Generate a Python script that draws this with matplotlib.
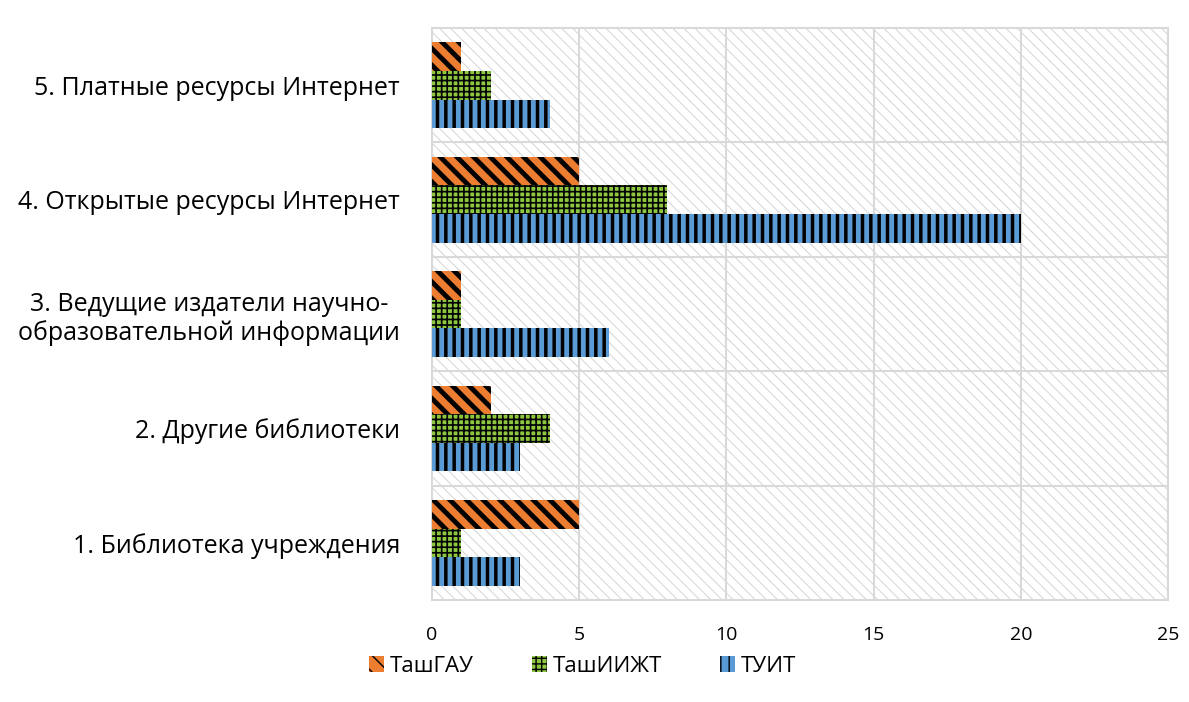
import numpy as np
import matplotlib.pyplot as plt
from matplotlib.patches import Rectangle, Patch

plt.rcParams['font.family'] = ['Open Sans', 'DejaVu Sans']

categories = ['1. Библиотека учреждения', '2. Другие библиотеки',
              '3. Ведущие издатели научно-\nобразовательной информации',
              '4. Открытые ресурсы Интернет', '5. Платные ресурсы Интернет']
series = ['ТашГАУ', 'ТашИИЖТ', 'ТУИТ']
tashgau = [5, 2, 1, 5, 1]
tashiizht = [1, 4, 1, 8, 2]
tuit = [3, 3, 6, 20, 4]
xticks = [0, 5, 10, 15, 20, 25]

colors = ['#ED7D31', '#8DC63F', '#5B9BD5']
hatches = ['\\\\', '+++', '||']
hlw = [3.5, 1.2, 2.5]

fig = plt.figure(figsize=(11.89, 7.02), dpi=100)
ax = fig.add_axes([0.3633, 0.1453, 0.6190, 0.8148])

# hatched background of plot area
with plt.rc_context({'hatch.linewidth': 0.7}):
    bg = Rectangle((0, 0), 1, 1, transform=ax.transAxes, facecolor='white',
                   edgecolor='#d4d4d4', hatch='\\\\\\', lw=0, zorder=0)
    ax.add_patch(bg)

y = np.arange(len(categories))
h = 0.25
vals = [tashgau, tashiizht, tuit]
offs = [h, 0, -h]
handles = []
for i in range(3):
    with plt.rc_context({'hatch.linewidth': hlw[i]}):
        ax.barh(y + offs[i], vals[i], height=h, color=colors[i], edgecolor='black',
                hatch=hatches[i], lw=0, zorder=3)
        handles.append(Patch(facecolor=colors[i], edgecolor='black', hatch=hatches[i], lw=0))

ax.set_xlim(0, 25)
ax.set_ylim(-0.5, 4.5)
ax.set_xticks(xticks)
ax.set_yticks(y)
ax.set_yticklabels(categories, fontsize=18, multialignment='center')
ax.tick_params(axis='x', labelsize=14, length=0, pad=19, colors='black')
ax.tick_params(axis='y', length=0, pad=23, colors='black')

for xv in xticks[1:]:
    ax.axvline(xv, color='#d9d9d9', lw=1.5, zorder=1)
for yv in np.arange(0.5, 4.5, 1):
    ax.axhline(yv, color='#d9d9d9', lw=1.5, zorder=1)
for s in ax.spines.values():
    s.set_color('#d9d9d9')
    s.set_linewidth(1.5)

fig.legend(handles, series, loc='center', bbox_to_anchor=(0.49, 0.051), ncol=3,
           frameon=False, fontsize=16, handlelength=0.7, handleheight=0.7,
           handletextpad=0.25, columnspacing=2.6)

fig.savefig('out.png', dpi=100)
